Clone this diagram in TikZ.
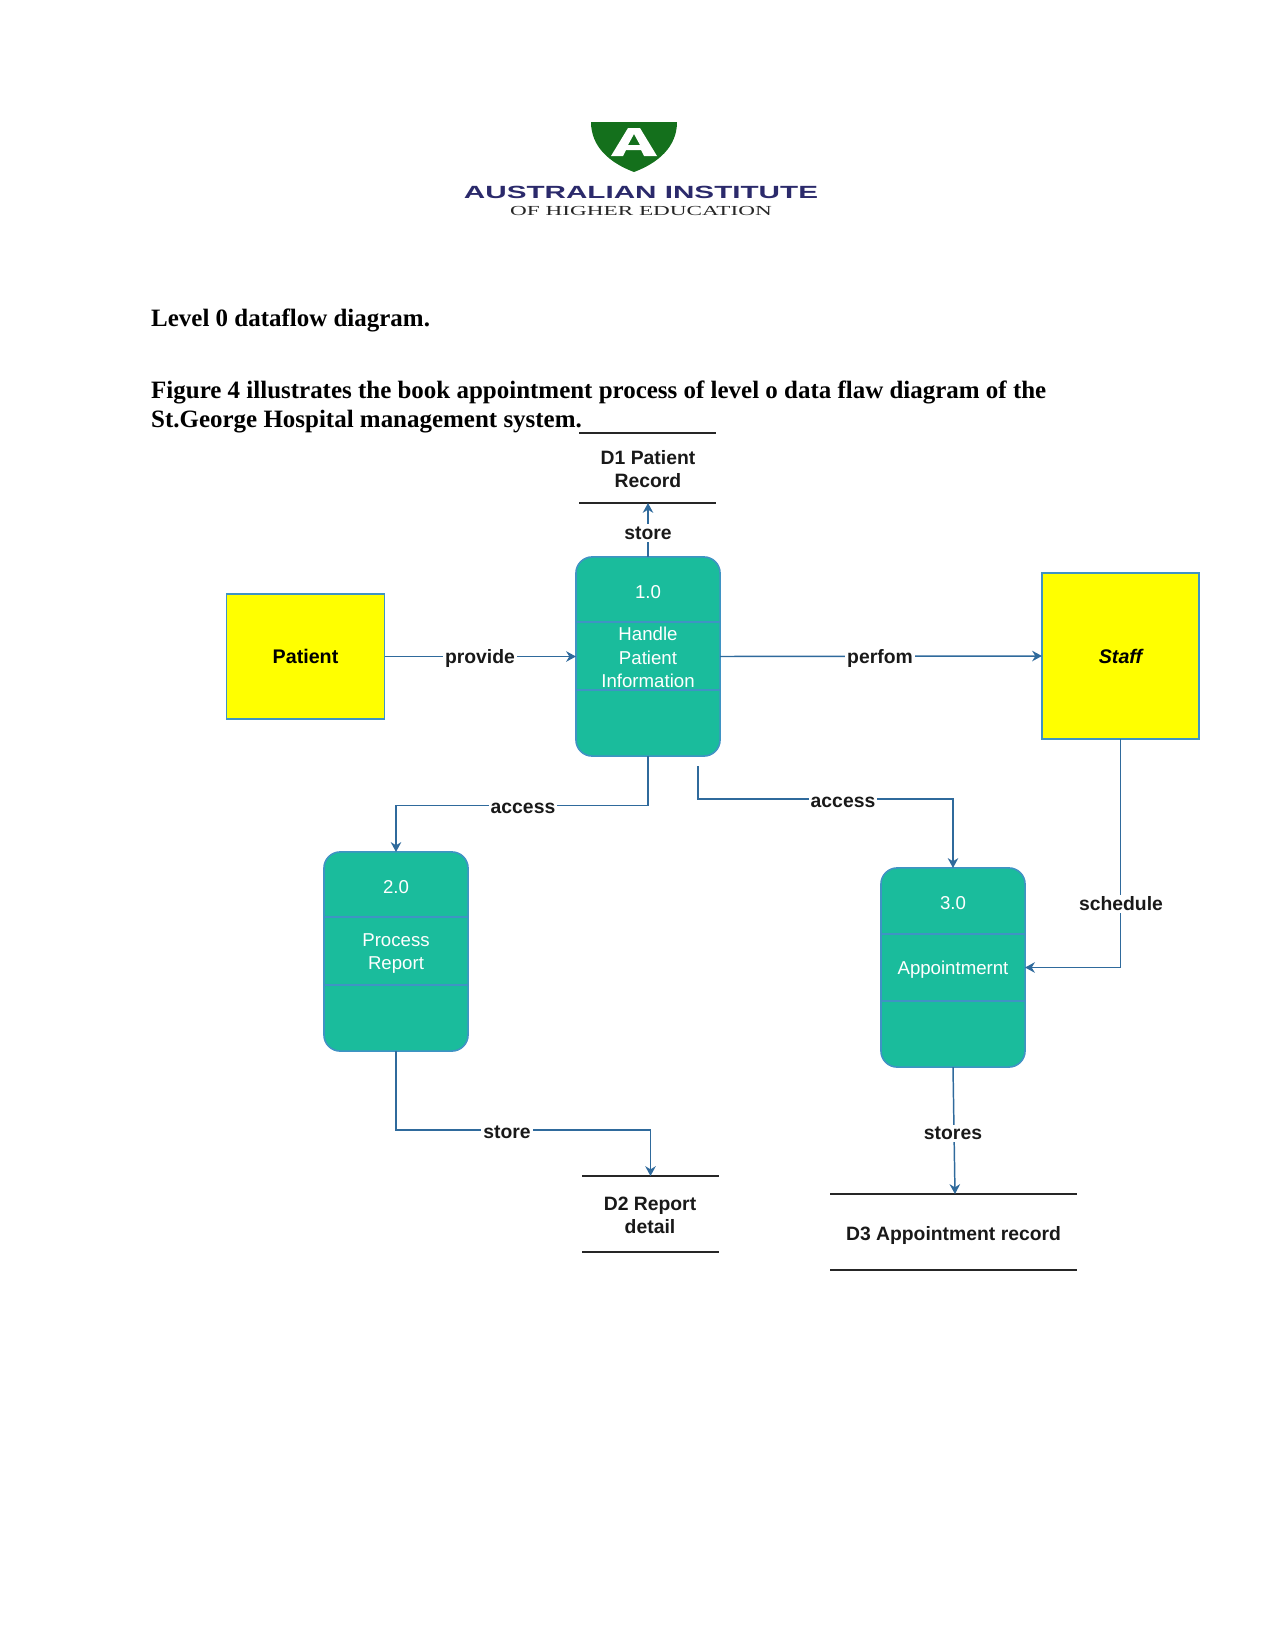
\documentclass[tikz,border=0pt]{standalone}
\usepackage{graphicx}
\usepackage{fontspec}
\setmainfont{Liberation Serif}
\setsansfont{Liberation Sans}
\usetikzlibrary{arrows.meta}

\definecolor{shieldgreen}{HTML}{14701C}
\definecolor{logonavy}{HTML}{2B2A6B}
\definecolor{proofill}{HTML}{1ABC9C}
\definecolor{proline}{HTML}{3F93C4}
\definecolor{flowline}{HTML}{2F6A9C}
\definecolor{extfill}{HTML}{FFFF00}

\tikzset{
  procbox/.style={draw=proline, fill=proofill, line width=0.45pt, rounded corners=4.6pt,
    minimum width=1.44cm, minimum height=1.99cm, inner sep=0pt, outer sep=0pt},
  proctext/.style={font=\sffamily\fontsize{5.3}{6.6}\selectfont, text=white, align=center, inner sep=0pt},
  extbox/.style={draw=proline, fill=extfill, line width=0.4pt, inner sep=0pt, outer sep=0pt,
    font=\sffamily\bfseries\fontsize{5.6}{6.6}\selectfont},
  flow/.style={draw=flowline, line width=0.42pt, -{Stealth[length=2.8pt,width=3pt]}},
  flowlabel/.style={fill=white, inner sep=0.6pt, font=\sffamily\bfseries\fontsize{5.5}{6.6}\selectfont, text=black!90},
  storeline/.style={draw=black!85, line width=0.4pt},
  storetext/.style={align=center, inner sep=0pt, font=\sffamily\bfseries\fontsize{5.5}{6.65}\selectfont, text=black!90},
  bodytext/.style={anchor=base west, inner sep=0pt, font=\rmfamily\bfseries\fontsize{7.1}{8.4}\selectfont},
}

\begin{document}
\begin{tikzpicture}[x=0.01cm, y=-0.01cm]
  \useasboundingbox (0,0) rectangle (1275,1651);

  % logo
  \fill[shieldgreen] (591,122) -- (677,122) .. controls (677,147) and (658,163) .. (634,172)
    .. controls (610,163) and (591,147) .. (591,122) -- cycle;
  \fill[white, even odd rule] (628,128) -- (640,128) -- (657,156) -- (644,156) -- (641,150)
    -- (626,150) -- (623,156) -- (611,156) -- cycle
    (634,134) -- (628,145) -- (640,145) -- cycle;
  \node[anchor=base, inner sep=0pt, text=logonavy] (logoname) at (641,198)
    {\resizebox{100.7pt}{3.5pt}{\sffamily\bfseries AUSTRALIAN INSTITUTE}};
  \node[anchor=base, inner sep=0pt, text=black!85] (logosub) at (641,215)
    {\resizebox{74.4pt}{2.6pt}{\rmfamily OF HIGHER EDUCATION}};

  % page text
  \node[bodytext] (heading) at (150.5,326) {Level 0 dataflow diagram.};
  \node[bodytext] (introa) at (150.5,398) {Figure 4 illustrates the book appointment process of level o data flaw diagram of the};
  \node[bodytext] (introb) at (150.5,427) {St.George Hospital management system.};

  % external entities
  \node[extbox, minimum width=1.58cm, minimum height=1.25cm] (patient) at (305.5,656.5) {Patient};
  \node[extbox, minimum width=1.57cm, minimum height=1.66cm] (staff) at (1120.5,656) {\itshape Staff};

  % processes
  \node[procbox] (handle) at (648,656.5) {};
  \node[procbox] (report) at (396,951.5) {};
  \node[procbox] (appt) at (953,967.5) {};
  \draw[proline, line width=0.45pt] (576,622) -- (720,622) (576,690) -- (720,690);
  \draw[proline, line width=0.45pt] (324,917) -- (468,917) (324,985) -- (468,985);
  \draw[proline, line width=0.45pt] (881,934) -- (1025,934) (881,1001) -- (1025,1001);
  \node[proctext] (handleid) at (648,592) {1.0};
  \node[proctext] (handlename) at (648,657.5) {Handle\\Patient\\Information};
  \node[proctext] (reportid) at (396,887) {2.0};
  \node[proctext] (reportname) at (396,953.5) {Process\\Report};
  \node[proctext] (apptid) at (953,903) {3.0};
  \node[proctext] (apptname) at (953,970) {Appointmernt};

  % data stores
  \draw[storeline] (579,433) -- (716,433) (579,503) -- (716,503);
  \draw[storeline] (582,1176) -- (719,1176) (582,1252) -- (719,1252);
  \draw[storeline] (830,1194) -- (1077,1194) (830,1270) -- (1077,1270);
  \coordinate (recordin) at (648,503);
  \coordinate (detailin) at (650.5,1176);
  \coordinate (apptin) at (955,1194);
  \node[storetext] (record) at (648,469) {D1 Patient\\Record};
  \node[storetext] (detail) at (650,1215.5) {D2 Report\\detail};
  \node[storetext] (apptrec) at (953.5,1235) {D3 Appointment record};

  % flows
  \coordinate (accessfree) at (698,766);
  \draw[flow] (patient.east) -- (handle.west);
  \draw[flow] (handle.east) -- (staff.west);
  \draw[flow] (handle.north) -- (recordin);
  \draw[flow] (handle.south) -- (648,805.5) -| (report.north);
  \draw[flow] (accessfree) |- (953,799) -- (appt.north);
  \draw[flow] (staff.south) |- (appt.east);
  \draw[flow] (report.south) |- (650.5,1130) -- (detailin);
  \draw[flow] (appt.south) -- (apptin);

  \node[flowlabel] (lprovide) at (480,658) {provide};
  \node[flowlabel] (lperfom) at (880,658) {perfom};
  \node[flowlabel] (lstore) at (648,533) {store};
  \node[flowlabel] (laccessa) at (523,808) {access};
  \node[flowlabel] (laccessb) at (843,802) {access};
  \node[flowlabel] (lschedule) at (1121,904) {schedule};
  \node[flowlabel] (lstoreb) at (507,1132) {store};
  \node[flowlabel] (lstores) at (953,1133) {stores};
\end{tikzpicture}
\end{document}
